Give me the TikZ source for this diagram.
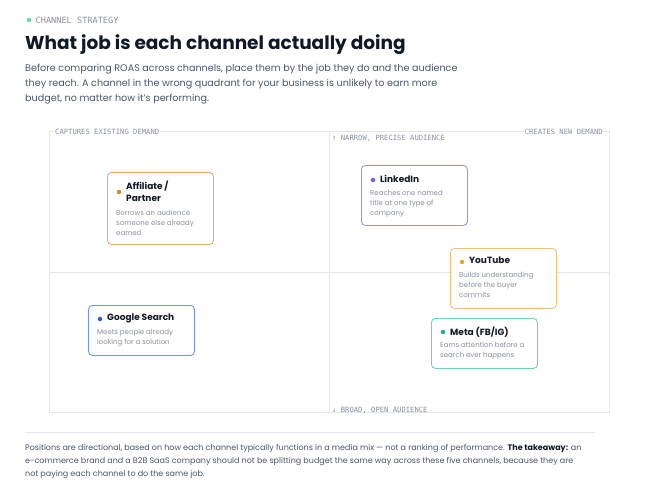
\documentclass[tikz,border=0pt]{standalone}
\usepackage{fontspec}
\setmainfont{Poppins}
\newfontfamily\monofont{DejaVu Sans Mono}
\usetikzlibrary{positioning}
\definecolor{ink}{HTML}{111827}
\definecolor{body}{HTML}{4A5568}
\definecolor{muted}{HTML}{8A90A0}
\definecolor{gridc}{HTML}{E3E6EE}
\definecolor{cteal}{HTML}{6DD3B8}
\definecolor{corange}{HTML}{DDAE70}
\definecolor{cyellow}{HTML}{F2C27A}
\definecolor{cpurple}{HTML}{A88CF2}
\definecolor{cblue}{HTML}{7494F2}
\definecolor{dteal}{HTML}{2FA589}
\definecolor{dorange}{HTML}{D08A2E}
\definecolor{dyellow}{HTML}{E8A23A}
\definecolor{dpurple}{HTML}{7C5CE8}
\definecolor{dblue}{HTML}{3458E0}
\tikzset{
  card/.style={draw=#1, line width=0.9pt, rounded corners=4pt, fill=white, anchor=north west},
  dot/.style={circle, fill=#1, inner sep=1.6pt},
  ctitle/.style={font=\fontsize{9}{12}\selectfont\bfseries, text=ink, anchor=north west, align=left, inner sep=0pt},
  cdesc/.style={font=\fontsize{7}{10}\selectfont, text=muted, anchor=north west, align=left, inner sep=0pt},
  axis/.style={font=\monofont\fontsize{7.2}{8}\selectfont, text=muted, inner sep=1pt},
  para/.style={font=\fontsize{9.6}{15}\selectfont, text=body, anchor=north west, align=left, inner sep=0pt}
}
\begin{document}
\begin{tikzpicture}[x=1pt, y=-1pt]
  \useasboundingbox (0,0) rectangle (656,500);

  % Kopf
  \node[dot=cteal] (kdot) at (29,20) {};
  \node[axis, anchor=west, right=3pt of kdot, font=\monofont\fontsize{8.6}{9}\selectfont] (kicker) {CHANNEL STRATEGY};
  \node[anchor=west, inner sep=0pt, font=\fontsize{18.5}{22}\selectfont\bfseries, text=ink] (titel) at (25,45) {What job is each channel actually doing};
  \node[para] (intro) at (25,64) {Before comparing ROAS across channels, place them by the job they do and the audience\\they reach. A channel in the wrong quadrant for your business is unlikely to earn more\\budget, no matter how it's performing.};

  % Quadranten
  \draw[gridc, line width=0.8pt] (49,131) rectangle (609,412);
  \draw[gridc, line width=0.8pt] (329,131) -- (329,412);
  \draw[gridc, line width=0.8pt] (49,272) -- (609,272);
  \node[axis, fill=white, anchor=west] (links) at (54,132) {CAPTURES EXISTING DEMAND};
  \node[axis, fill=white, anchor=east] (rechts) at (604,132) {CREATES NEW DEMAND};
  \node[axis, anchor=west] (oben) at (331,138) {↑ NARROW, PRECISE AUDIENCE};
  \node[axis, anchor=west] (unten) at (331,410) {↓ BROAD, OPEN AUDIENCE};

  % Karten
  \node[card=corange, minimum width=106pt, minimum height=72pt] (aff) at (107,172) {};
  \node[dot=dorange] (affd) at (119,192) {};
  \node[ctitle] (afft) at (126,181) {Affiliate /\\Partner};
  \node[cdesc] (affx) at (116,210) {Borrows an audience\\someone else already\\earned};

  \node[card=cpurple, minimum width=106pt, minimum height=60pt] (li) at (361,165) {};
  \node[dot=dpurple] (lid) at (373,180) {};
  \node[ctitle] (lit) at (380,175) {LinkedIn};
  \node[cdesc] (lix) at (370,190) {Reaches one named\\title at one type of\\company};

  \node[card=cyellow, minimum width=106pt, minimum height=60pt] (yt) at (450,248) {};
  \node[dot=dyellow] (ytd) at (462,262) {};
  \node[ctitle] (ytt) at (469,257) {YouTube};
  \node[cdesc] (ytx) at (459,272) {Builds understanding\\before the buyer\\commits};

  \node[card=cblue, minimum width=106pt, minimum height=50pt] (gs) at (88,305) {};
  \node[dot=dblue] (gsd) at (100,319) {};
  \node[ctitle] (gst) at (107,314) {Google Search};
  \node[cdesc] (gsx) at (97,329) {Meets people already\\looking for a solution};

  \node[card=cteal, minimum width=106pt, minimum height=50pt] (meta) at (431,318) {};
  \node[dot=dteal] (metad) at (443,332) {};
  \node[ctitle] (metat) at (450,327) {Meta (FB/IG)};
  \node[cdesc] (metax) at (440,342) {Earns attention before a\\search ever happens};

  % Fuss
  \draw[gridc, line width=0.6pt] (25,432) -- (595,432);
  \node[para, font=\fontsize{8}{13}\selectfont] (fuss) at (25,444) {Positions are directional, based on how each channel typically functions in a media mix — not a ranking of performance. \textcolor{ink}{\bfseries The takeaway:} an\\e-commerce brand and a B2B SaaS company should not be splitting budget the same way across these five channels, because they are\\not paying each channel to do the same job.};
\end{tikzpicture}
\end{document}
